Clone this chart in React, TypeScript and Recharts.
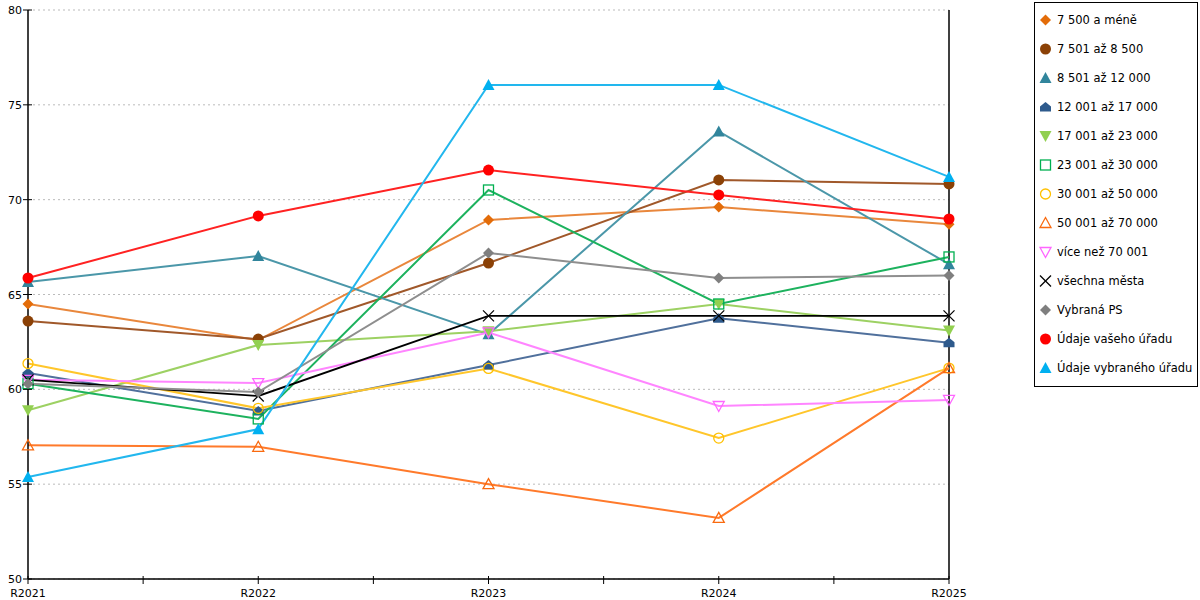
import React from 'react';
import { LineChart, Line, XAxis, YAxis, CartesianGrid, ReferenceLine, Legend } from 'recharts';

const categories = ['R2021', 'R2022', 'R2023', 'R2024', 'R2025'];
const yTicks = [50, 55, 60, 65, 70, 75, 80];
const xTicks = [0, 0.5, 1, 1.5, 2, 2.5, 3, 3.5, 4];

const s7500 = [64.5, 62.6, 68.93, 69.61, 68.7];
const s8500 = [63.6, 62.65, 66.66, 71.04, 70.83];
const s12000 = [65.66, 67.03, 62.9, 73.6, 66.6];
const s17000 = [60.86, 58.86, 61.28, 63.75, 62.45];
const s23000 = [58.9, 62.34, 63.06, 64.5, 63.1];
const s30000 = [60.3, 58.44, 70.51, 64.5, 66.98];
const s50000 = [61.36, 59.0, 61.1, 57.43, 61.12];
const s70000 = [57.05, 56.97, 55.0, 53.22, 61.12];
const sOver70 = [60.5, 60.33, 63.0, 59.12, 59.44];
const sAll = [60.5, 59.65, 63.87, 63.87, 63.87];
const sPS = [60.3, 59.86, 67.19, 65.87, 66.0];
const sYours = [65.87, 69.14, 71.56, 70.25, 68.98];
const sSelected = [55.38, 57.9, 76.05, 76.05, 71.2];

type Shape = 'diamond' | 'circle' | 'triangle' | 'house' | 'tridown' | 'square' | 'ring' | 'triopen' | 'tridownopen' | 'x';

const seriesNames = [
  '7 500 a méně', '7 501 až 8 500', '8 501 až 12 000', '12 001 až 17 000', '17 001 až 23 000',
  '23 001 až 30 000', '30 001 až 50 000', '50 001 až 70 000', 'více než 70 001', 'všechna města',
  'Vybraná PS', 'Údaje vašeho úřadu', 'Údaje vybraného úřadu',
];
const seriesValues = [s7500, s8500, s12000, s17000, s23000, s30000, s50000, s70000, sOver70, sAll, sPS, sYours, sSelected];
const lineColors = ['#E9873C', '#A0582A', '#4B97A9', '#50709C', '#9DD163', '#1DB25E', '#FFC62B', '#FF7A2B', '#FF85FF', '#000000', '#8E8E8E', '#FF2222', '#22B7EE'];
const markerColors = ['#E36C09', '#8B4106', '#31859C', '#2E5A8C', '#92D050', '#00B050', '#FFC000', '#F96A0F', '#FF66FF', '#000000', '#7F7F7F', '#FF0000', '#00B0F0'];
const shapes: Shape[] = ['diamond', 'circle', 'triangle', 'house', 'tridown', 'square', 'ring', 'triopen', 'tridownopen', 'x', 'diamond', 'circle', 'triangle'];

const rows = categories.map((c, i) => {
  const r: Record<string, number | string> = { x: i, cat: c };
  seriesValues.forEach((vals, k) => {
    r['s' + k] = vals[i];
  });
  return r;
});

function Marker({ shape, color, cx, cy }: { shape: Shape; color: string; cx: number; cy: number }) {
  switch (shape) {
    case 'diamond':
      return <polygon points={`${cx},${cy - 5.5} ${cx + 5.5},${cy} ${cx},${cy + 5.5} ${cx - 5.5},${cy}`} fill={color} />;
    case 'circle':
      return <circle cx={cx} cy={cy} r={5.5} fill={color} />;
    case 'triangle':
      return <polygon points={`${cx},${cy - 6} ${cx + 6},${cy + 5} ${cx - 6},${cy + 5}`} fill={color} />;
    case 'house':
      return <polygon points={`${cx},${cy - 5} ${cx + 5.5},${cy - 0.5} ${cx + 5.5},${cy + 4.5} ${cx - 5.5},${cy + 4.5} ${cx - 5.5},${cy - 0.5}`} fill={color} />;
    case 'tridown':
      return <polygon points={`${cx - 6},${cy - 5} ${cx + 6},${cy - 5} ${cx},${cy + 6}`} fill={color} />;
    case 'square':
      return <rect x={cx - 5} y={cy - 5} width={10} height={10} fill="none" stroke={color} strokeWidth={1.3} />;
    case 'ring':
      return <circle cx={cx} cy={cy} r={5} fill="none" stroke={color} strokeWidth={1.3} />;
    case 'triopen':
      return <polygon points={`${cx},${cy - 5.5} ${cx + 5.5},${cy + 4.5} ${cx - 5.5},${cy + 4.5}`} fill="none" stroke={color} strokeWidth={1.3} />;
    case 'tridownopen':
      return <polygon points={`${cx - 5.5},${cy - 4.5} ${cx + 5.5},${cy - 4.5} ${cx},${cy + 5.5}`} fill="none" stroke={color} strokeWidth={1.3} />;
    case 'x':
      return (
        <g stroke={color} strokeWidth={1.2}>
          <line x1={cx - 5.5} y1={cy - 5.5} x2={cx + 5.5} y2={cy + 5.5} />
          <line x1={cx - 5.5} y1={cy + 5.5} x2={cx + 5.5} y2={cy - 5.5} />
        </g>
      );
  }
  return null;
}

const FONT = '"DejaVu Sans", Verdana, sans-serif';

function XTick(props: any) {
  const { x, y, payload } = props;
  const axisY = y - 6;
  const v = payload.value as number;
  const label = Number.isInteger(v) ? categories[v] : '';
  return (
    <g>
      <line x1={x} y1={axisY - 3} x2={x} y2={axisY + 5} stroke="#000" strokeWidth={1} />
      {label ? (
        <text x={x} y={axisY + 18} textAnchor="middle" fontSize={11} fontFamily={FONT} fill="#000">{label}</text>
      ) : null}
    </g>
  );
}

function YTick(props: any) {
  const { x, y, payload } = props;
  const axisX = x + 6;
  return (
    <g>
      <line x1={axisX - 5} y1={y} x2={axisX + 4} y2={y} stroke="#000" strokeWidth={1} />
      <text x={axisX - 6} y={y + 4} textAnchor="end" fontSize={11} fontFamily={FONT} fill="#000">{payload.value}</text>
    </g>
  );
}

function LegendContent() {
  return (
    <div style={{ border: '1px solid #000', width: 164, height: 385, boxSizing: 'border-box', background: '#fff', paddingTop: 2 }}>
      {seriesNames.map((n, k) => (
        <div key={n} style={{ display: 'flex', alignItems: 'center', height: 29, fontFamily: FONT, fontSize: 11.5, color: '#000', whiteSpace: 'nowrap' }}>
          <svg width={20} height={14} style={{ marginLeft: 2 }}>
            <Marker shape={shapes[k]} color={markerColors[k]} cx={8.5} cy={7} />
          </svg>
          <span>{n}</span>
        </div>
      ))}
    </div>
  );
}

export default function App() {
  return (
    <div style={{ position: 'absolute', left: 0, top: 0, width: 1200, height: 600, background: '#fff' }}>
      <LineChart width={1200} height={600} data={rows} margin={{ top: 10, right: 251, bottom: 0, left: 0 }}>
        <CartesianGrid vertical={false} stroke="#BBBBBB" strokeDasharray="2 3" />
        <XAxis
          dataKey="x"
          type="number"
          domain={[0, 4]}
          ticks={xTicks}
          interval={0}
          height={21}
          axisLine={{ stroke: '#000', strokeWidth: 1.5 }}
          tickLine={false}
          tickSize={4}
          tick={<XTick />}
        />
        <YAxis
          type="number"
          domain={[50, 80]}
          ticks={yTicks}
          interval={0}
          width={28}
          axisLine={{ stroke: '#000', strokeWidth: 1.5 }}
          tickLine={false}
          tickSize={4}
          tick={<YTick />}
        />
        <ReferenceLine x={4} stroke="#000000" strokeWidth={1.5} strokeDasharray="0" />
        <Legend
          layout="vertical"
          align="center"
          verticalAlign="middle"
          content={<LegendContent />}
          wrapperStyle={{ position: 'absolute', left: 1034, top: 2, width: 164, height: 385 }}
        />
        {seriesNames.map((n, k) => (
          <Line
            key={n}
            name={n}
            dataKey={'s' + k}
            type="linear"
            stroke={lineColors[k]}
            strokeWidth={k === 9 ? 1.8 : 2}
            isAnimationActive={false}
            dot={(p: any) => <Marker key={n + p.index} shape={shapes[k]} color={markerColors[k]} cx={p.cx} cy={p.cy} />}
            activeDot={false}
          />
        ))}
      </LineChart>
    </div>
  );
}
